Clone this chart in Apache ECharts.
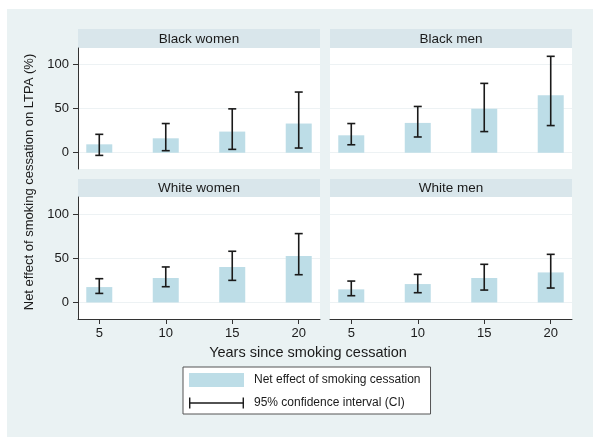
<!DOCTYPE html>
<html>
<head>
<meta charset="utf-8">
<script src="https://cdn.jsdelivr.net/npm/echarts@6/dist/echarts.min.js"></script>
<style>html,body{margin:0;padding:0;background:#fff;}#c{width:600px;height:444px;}</style>
</head>
<body>
<div id="c"></div>
<script>
const years = [5, 10, 15, 20];
const panelTitles = ["Black women", "Black men", "White women", "White men"];
const xTicks = [5, 10, 15, 20];
const yTicks = [0, 50, 100];

const blackWomenEffect = [9.5, 16.3, 23.9, 33.0];
const blackWomenLow = [-3.0, 2.3, 3.8, 5.3];
const blackWomenHigh = [20.8, 33.0, 49.6, 68.6];

const blackMenEffect = [19.7, 33.7, 49.6, 65.0];
const blackMenLow = [9.0, 17.8, 23.9, 30.7];
const blackMenHigh = [33.0, 52.3, 78.4, 109.0];

const whiteWomenEffect = [17.4, 27.7, 40.2, 52.7];
const whiteWomenLow = [10.2, 17.8, 25.0, 31.4];
const whiteWomenHigh = [26.9, 40.2, 58.0, 78.0];

const whiteMenEffect = [14.8, 20.8, 27.7, 34.0];
const whiteMenLow = [7.6, 11.0, 14.0, 16.3];
const whiteMenHigh = [24.2, 31.8, 43.2, 54.5];

const effectName = "Net effect of smoking cessation";
const ciName = "95% confidence interval (CI)";

const FONT = "'Liberation Sans', Arial, sans-serif";
const BAR = '#bddde7';
const STRIP = '#d9e6eb';
const BG = '#eaf2f3';
const INK = '#1a1a1a';

const panels = [
  {eff: blackWomenEffect, lo: blackWomenLow, hi: blackWomenHigh},
  {eff: blackMenEffect, lo: blackMenLow, hi: blackMenHigh},
  {eff: whiteWomenEffect, lo: whiteWomenLow, hi: whiteWomenHigh},
  {eff: whiteMenEffect, lo: whiteMenLow, hi: whiteMenHigh}
];

const grids = [
  {left: 78, top: 48, width: 242, height: 121},
  {left: 330, top: 48, width: 242, height: 121},
  {left: 78, top: 197, width: 242, height: 122},
  {left: 330, top: 197, width: 242, height: 122}
];

const xAxes = grids.map((g, i) => {
  const bottom = i >= 2;
  return {
    gridIndex: i, type: 'value', min: 3.4, max: 21.6,
    show: bottom,
    axisLine: {show: bottom, onZero: false, lineStyle: {color: '#333', width: 1}},
    axisTick: {show: bottom, customValues: xTicks, length: 5, lineStyle: {color: '#333'}},
    axisLabel: {show: bottom, customValues: xTicks, margin: 8, color: INK, fontSize: 13, fontFamily: FONT},
    splitLine: {show: false}
  };
});

const yAxes = grids.map((g, i) => {
  const left = i % 2 === 0;
  const top = i < 2;
  return {
    gridIndex: i, type: 'value',
    min: top ? -18.4 : -18.8, max: top ? 118.4 : 119.5,
    axisLine: {show: left, lineStyle: {color: '#333', width: 1}},
    axisTick: {show: left, customValues: yTicks, length: 5, lineStyle: {color: '#333'}},
    axisLabel: {show: left, customValues: yTicks, margin: 9, color: INK, fontSize: 13, fontFamily: FONT},
    splitLine: {show: true, lineStyle: {color: '#edf2f4', width: 1}}
  };
});

const series = [];
panels.forEach((p, i) => {
  series.push({
    name: effectName, type: 'bar', xAxisIndex: i, yAxisIndex: i,
    barWidth: 26, itemStyle: {color: BAR},
    data: years.map((y, k) => [y, p.eff[k]]),
    z: 2
  });
  series.push({
    name: ciName, type: 'custom', xAxisIndex: i, yAxisIndex: i,
    itemStyle: {color: INK},
    data: years.map((y, k) => [y, p.lo[k], p.hi[k]]),
    z: 3,
    renderItem: function (params, api) {
      const x = api.value(0);
      const lo = api.coord([x, api.value(1)]);
      const hi = api.coord([x, api.value(2)]);
      const hw = 4;
      const st = {stroke: INK, lineWidth: 1.6, fill: null};
      return {
        type: 'group',
        children: [
          {type: 'line', shape: {x1: lo[0], y1: lo[1], x2: hi[0], y2: hi[1]}, style: st},
          {type: 'line', shape: {x1: lo[0] - hw, y1: lo[1], x2: lo[0] + hw, y2: lo[1]}, style: st},
          {type: 'line', shape: {x1: hi[0] - hw, y1: hi[1], x2: hi[0] + hw, y2: hi[1]}, style: st}
        ]
      };
    }
  });
});

const graphics = [
  {type: 'rect', shape: {x: 7, y: 9, width: 586, height: 428}, style: {fill: BG}, z: -10, silent: true}
];
const strips = [
  {x: 78, y: 29, w: 242, h: 19},
  {x: 330, y: 29, w: 242, h: 19},
  {x: 78, y: 179, w: 242, h: 18},
  {x: 330, y: 179, w: 242, h: 18}
];
strips.forEach((s, i) => {
  graphics.push({type: 'rect', shape: {x: s.x, y: s.y, width: s.w, height: s.h}, style: {fill: STRIP}, z: -5, silent: true});
  graphics.push({type: 'text', x: s.x + s.w / 2, y: s.y + s.h / 2 + 0.5, z: 5,
    style: {text: panelTitles[i], fill: INK, font: '13.5px ' + FONT, textAlign: 'center', textVerticalAlign: 'middle'}});
});
graphics.push({type: 'text', x: 29, y: 182, rotation: Math.PI / 2, z: 5,
  style: {text: 'Net effect of smoking cessation on LTPA (%)', fill: INK, font: '13px ' + FONT, textAlign: 'center', textVerticalAlign: 'middle'}});
graphics.push({type: 'text', x: 308, y: 353, z: 5,
  style: {text: 'Years since smoking cessation', fill: INK, font: '14.5px ' + FONT, textAlign: 'center', textVerticalAlign: 'middle'}});

const option = {
  backgroundColor: '#ffffff',
  animation: false,
  grid: grids.map(g => Object.assign({show: true, backgroundColor: '#ffffff', borderWidth: 0, containLabel: false}, g)),
  xAxis: xAxes,
  yAxis: yAxes,
  legend: {
    orient: 'vertical', left: 183, top: 367,
    backgroundColor: '#ffffff', borderColor: '#555', borderWidth: 1,
    padding: [6, 10, 4, 6], itemGap: 9, itemWidth: 55, itemHeight: 14,
    textStyle: {color: INK, fontSize: 12, fontFamily: FONT, padding: [0, 0, 0, 5]},
    selectedMode: false,
    data: [
      {name: effectName, icon: 'rect', itemStyle: {color: BAR}},
      {name: ciName, icon: 'path://M0,1.5h1.4v11h-1.4z M0,6.3h55v1.4h-55z M53.6,1.5h1.4v11h-1.4z M0,0h0.01v0.01h-0.01z M0,14h0.01v0.01h-0.01z', itemStyle: {color: INK}}
    ]
  },
  graphic: graphics,
  series: series
};

const chart = echarts.init(document.getElementById('c'), null, {renderer: 'canvas'});
chart.setOption(option);
</script>
</body>
</html>
